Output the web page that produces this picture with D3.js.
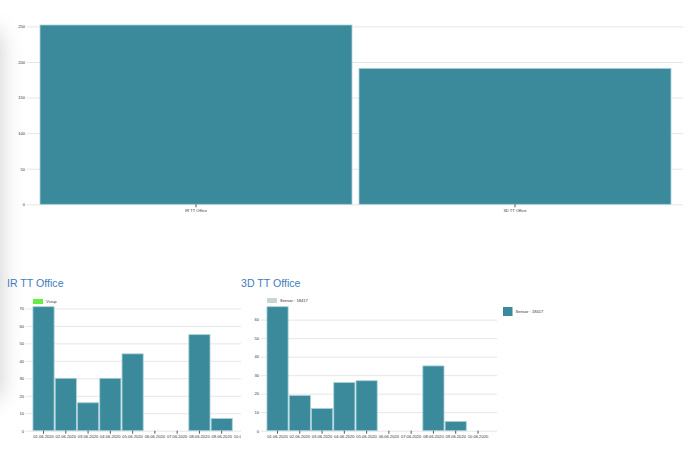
<!DOCTYPE html>
<html>
<head>
<meta charset="utf-8">
<script src="https://cdn.jsdelivr.net/npm/d3@7"></script>
<style>
  body { margin: 0; background: #fff; font-family: "Liberation Sans", Arial, sans-serif; overflow: hidden; }
  #page { position: relative; width: 700px; height: 451px; overflow: hidden; }
  .shade { position: absolute; left: -300px; top: 32px; width: 300px; height: 366px; box-shadow: 0 0 22px rgba(0,0,0,0.2); }
  .title { position: absolute; font-size: 10.6px; color: #3f7dbd; line-height: 12px; }
  svg { position: absolute; left: 0; top: 0; overflow: hidden; }
  .axis text { font-size: 4.1px; fill: #333; }
  .axis line { stroke: #e6e6e6; }
  .xaxis line { stroke: #555; }
</style>
</head>
<body>
<div id="page">
  <div class="shade"></div>
  <div class="title" style="left:7px;top:277px">IR TT Office</div>
  <div class="title" style="left:241px;top:277px">3D TT Office</div>
</div>
<script>
var topCategories = ["IR TT Office", "3D TT Office"];
var topValues = [252, 191];

var dates = ["01.06.2020", "02.06.2020", "03.06.2020", "04.06.2020", "05.06.2020",
             "06.06.2020", "07.06.2020", "08.06.2020", "09.06.2020", "10.06.2020"];
var irValues = [71, 30, 16, 30, 44, 0, 0, 55, 7, 0];
var d3Values = [67, 19, 12, 26, 27, 0, 0, 35, 5, 0];

var irLegend = "Vstup";
var d3Legend = "Sensor : 18417";
var sideLegend = "Sensor : 18417";

var BAR = "#3b8a9c";
var page = d3.select("#page");

// chart drawing helper
function barChart(opts) {
  var svg = page.append("svg")
    .attr("width", opts.width)
    .attr("height", 451)
    .style("left", opts.left + "px");

  var x = d3.scaleBand().domain(opts.cats).range(opts.xRange).paddingInner(opts.pad).paddingOuter(opts.padOuter);
  var y = d3.scaleLinear().domain([0, d3.max(opts.values)]).range(opts.yRange);

  svg.append("g")
    .attr("class", "axis")
    .attr("transform", "translate(" + opts.gridX0 + ",0)")
    .call(d3.axisLeft(y).tickValues(opts.tickValues).tickSize(-(opts.gridX1 - opts.gridX0)).tickPadding(2))
    .call(g => g.select(".domain").remove());

  svg.selectAll(".bar")
    .data(opts.values)
    .enter().append("rect")
    .attr("x", function(d, i) { return x(opts.cats[i]); })
    .attr("y", function(d) { return y(d); })
    .attr("width", x.bandwidth())
    .attr("height", function(d) { return y(0) - y(d); })
    .style("fill", BAR)
    .style("stroke", "#a9d0d8")
    .style("stroke-width", 0.8);

  svg.append("g")
    .attr("class", "axis xaxis")
    .attr("transform", "translate(0," + opts.yRange[0] + ")")
    .call(d3.axisBottom(x).tickSize(3).tickPadding(1.5))
    .call(g => g.select(".domain").remove());

  if (opts.legend) {
    svg.append("rect")
      .attr("x", opts.legendX).attr("y", opts.legendY)
      .attr("width", 10).attr("height", 5)
      .style("fill", opts.legendColor);
    svg.append("text")
      .attr("x", opts.legendX + 13).attr("y", opts.legendY + 4)
      .style("font-size", "4.1px").style("fill", "#333")
      .text(opts.legend);
  }
  return svg;
}

// top chart
barChart({
  left: 0, width: 700,
  cats: topCategories, values: topValues,
  xRange: [36.5, 674.5], pad: 0.022, padOuter: 0.011,
  yRange: [204.3, 25], tickValues: [0, 50, 100, 150, 200, 250],
  gridX0: 27, gridX1: 683
});

// IR TT Office
barChart({
  left: 0, width: 241,
  cats: dates, values: irValues,
  xRange: [32.5, 255], pad: 0.05, padOuter: 0.02,
  yRange: [430.7, 306.7], tickValues: d3.range(0, 71, 10),
  gridX0: 26, gridX1: 241,
  legend: irLegend, legendX: 33, legendY: 299, legendColor: "#66ee44"
});

// 3D TT Office
var right = barChart({
  left: 0, width: 700,
  cats: dates, values: d3Values,
  xRange: [266.5, 489], pad: 0.05, padOuter: 0.02,
  yRange: [430.7, 306.7], tickValues: d3.range(0, 61, 10),
  gridX0: 261, gridX1: 497,
  legend: d3Legend, legendX: 267, legendY: 298, legendColor: "#c9d3d8"
});

// side legend
right.append("rect")
  .attr("x", 503).attr("y", 307)
  .attr("width", 9.5).attr("height", 9)
  .style("fill", BAR);
right.append("text")
  .attr("x", 515.5).attr("y", 313)
  .style("font-size", "4.1px").style("fill", "#333")
  .text(sideLegend);
</script>
</body>
</html>
